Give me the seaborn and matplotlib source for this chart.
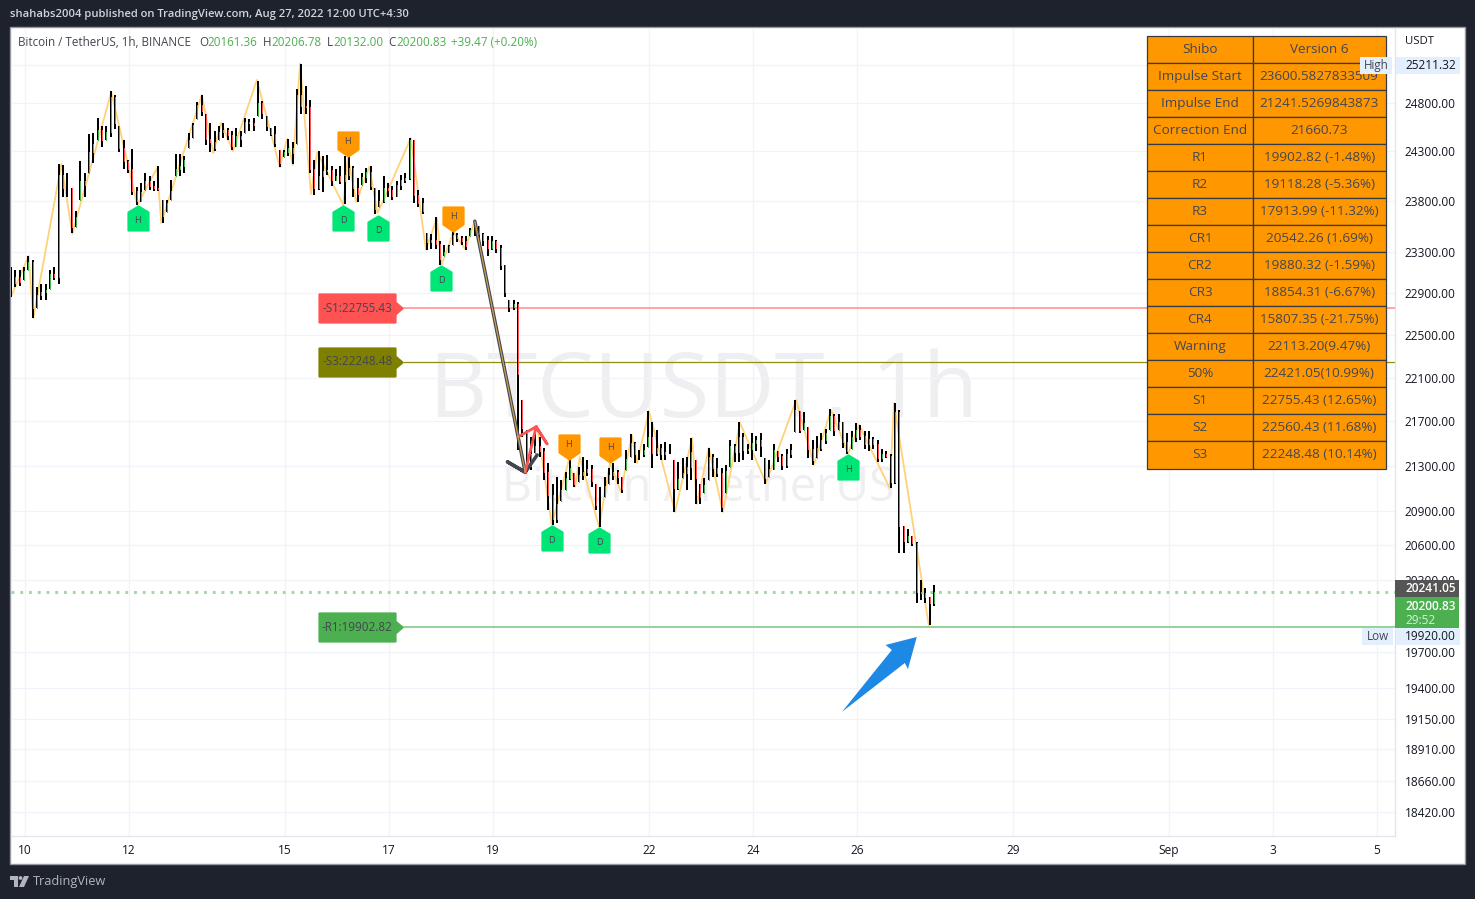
import numpy as np
import pandas as pd
import matplotlib
matplotlib.use("Agg")
import matplotlib.pyplot as plt
import seaborn as sns
from matplotlib.path import Path
from matplotlib.patches import Rectangle, Circle, Polygon
from matplotlib.ticker import FixedLocator, FixedFormatter, NullLocator

# candles, one per two hours
first_candle_day = 9.73
highs = [
    23150,23120,23120,23150,23260,23220,22960,22990,22990,23120,
    23150,24170,24160,24080,23930,23700,24200,24080,24480,24490,
    24640,24560,24560,24920,24880,24560,24420,24210,24330,23940,
    23980,24080,24050,24000,24150,23810,23810,24010,24270,24270,
    24250,24490,24590,24810,24880,24690,24590,24510,24560,24590,
    24540,24510,24540,24510,24640,24630,24640,25030,24820,24660,
    24540,24560,24320,24320,24430,24400,24950,25211,24980,24830,
    24210,24300,24250,24260,24150,24120,24150,24250,24250,24150,
    24030,24080,24130,24150,23930,23910,24050,23980,23950,24000,
    24060,24080,24440,24420,23910,23830,23480,23470,23640,23400,
    23370,23370,23500,23480,23450,23450,23530,23600,23550,23480,
    23450,23450,23410,23370,23170,22830,22830,22810,21895,21620,
    21560,21650,21560,21460,21320,21140,21200,21170,21240,21350,
    21230,21290,21380,21350,21310,21140,21110,21200,21280,21320,
    21260,21200,21440,21580,21510,21440,21490,21790,21690,21620,
    21490,21510,21490,21350,21330,21370,21380,21550,21350,21140,
    21190,21460,21400,21370,21280,21310,21530,21490,21690,21590,
    21490,21590,21570,21590,21370,21350,21490,21430,21400,21450,
    21490,21890,21790,21780,21650,21530,21570,21590,21630,21810,
    21770,21770,21690,21590,21610,21680,21670,21610,21610,21560,
    21530,21450,21430,21400,21870,21800,20770,20740,20680,20630,
    20300,20230,20160,20260]
lows = [
    22860,22960,22970,23020,23120,22660,22760,22830,22830,22940,
    23020,22990,23840,23840,23480,23540,23810,23840,24080,24180,
    24420,24350,24420,24450,24530,24290,24120,24080,23860,23760,
    23790,23910,23910,23900,23900,23580,23690,23810,24050,24050,
    24080,24340,24440,24630,24660,24370,24290,24300,24420,24440,
    24420,24320,24350,24350,24490,24510,24510,24660,24630,24510,
    24460,24350,24140,24240,24250,24170,24380,24690,24690,24080,
    23860,23910,23890,24060,23950,24000,23970,23770,24010,23840,
    23790,23960,23980,23910,23670,23740,23780,23840,23810,23840,
    23910,23980,24010,23780,23740,23670,23320,23330,23330,23170,
    23260,23290,23370,23390,23370,23320,23450,23450,23420,23360,
    23260,23320,23290,23120,22860,22720,22740,21440,21560,21240,
    21260,21410,21380,21170,20910,20780,20790,20990,21080,21170,
    21110,21150,21170,21210,21110,20910,20760,21020,21140,21170,
    21140,21060,21260,21380,21320,21350,21380,21470,21280,21390,
    21350,21350,21400,20890,21080,21190,21080,21170,20960,20960,
    21060,21170,21200,21200,20890,21060,21290,21330,21330,21350,
    21400,21350,21430,21380,21140,21200,21260,21330,21260,21280,
    21370,21600,21590,21620,21370,21310,21370,21430,21490,21620,
    21570,21620,21460,21400,21450,21510,21530,21450,21430,21450,
    21330,21330,21370,21100,21140,20530,20530,20620,20590,20110,
    20130,20110,19920,20080]
closes = [
    23000,23050,23010,23110,23200,22760,22880,22910,22930,23080,
    23050,24060,23930,23930,23540,23640,24000,23960,24290,24380,
    24520,24420,24500,24860,24590,24340,24200,24120,23900,23800,
    23890,24000,23950,23930,23920,23650,23780,23900,24120,24150,
    24210,24420,24570,24780,24720,24430,24400,24340,24500,24520,
    24470,24360,24460,24430,24600,24590,24570,24800,24700,24560,
    24480,24390,24180,24290,24340,24280,24880,24770,24760,24120,
    23930,24050,24100,24110,24010,24050,24000,24060,24130,23930,
    23870,24040,24090,23950,23720,23800,23930,23910,23850,23960,
    24010,24030,24420,23860,23780,23700,23390,23410,23380,23230,
    23300,23360,23460,23430,23400,23360,23510,23560,23470,23410,
    23340,23400,23340,23170,22910,22770,22790,22130,21640,21300,
    21400,21480,21430,21240,21040,20830,20960,21080,21190,21280,
    21140,21220,21240,21270,21160,20950,20950,21120,21220,21240,
    21200,21090,21360,21500,21400,21400,21440,21560,21410,21460,
    21400,21420,21420,21100,21180,21230,21290,21420,21190,21020,
    21130,21380,21280,21230,20930,21250,21480,21420,21560,21440,
    21450,21500,21530,21480,21190,21270,21440,21390,21310,21400,
    21440,21800,21620,21680,21450,21350,21460,21530,21590,21750,
    21620,21690,21510,21430,21560,21620,21570,21490,21540,21490,
    21370,21400,21390,21150,21780,20770,20640,20680,20620,20200,
    20190,20160,20110,20201]

# zigzag pivots
zig_days = [9.73,10.07,10.16,10.70,10.91,11.66,12.16,12.54,12.62,13.40,13.62,13.77,14.00,14.46,
            14.90,15.04,15.15,15.29,15.50,15.62,16.12,16.21,16.37,16.62,16.78,17.04,17.42,17.71,
            17.92,18.01,18.24,18.46,18.65,19.62,19.85,20.13,20.46,20.58,20.67,21.04,21.25,21.46,
            21.67,21.77,22.00,22.50,22.83,22.92,23.15,23.42,23.75,24.25,24.83,25.17,25.50,25.83,
            26.04,26.63,26.71,27.38]
zig_prices = [22862,23258,22661,24173,23474,24914,23761,24133,23582,24883,24283,24593,24304,25041,
              24143,24428,24163,25211,23871,24293,23761,24244,23791,24143,23680,23981,24438,23317,
              23632,23170,23494,23327,23600,21241,21660,20776,21351,21110,21378,20759,21324,21066,
              21576,21324,21794,20890,21549,20960,21458,20890,21685,21145,21895,21306,21803,21405,
              21667,21100,21868,19920]

# impulse and correction arrows
impulse_days = [18.65,19.62,19.28,19.62,19.85]
impulse_prices = [23600,21241,21333,21241,21396]
correction_days = [19.48,19.83,20.04,19.83,19.62]
correction_prices = [21558,21650,21495,21650,21241]

# blue arrow the author drew
arrow_days = [25.71,26.67,26.55,27.15,26.98,26.92]
arrow_prices = [19209,19715,19756,19823,19558,19608]

# pattern badges
down_badge_days = [12.17,16.12,16.79,18.00,20.13,21.04,25.83]
down_badge_prices = [23761,23761,23662,23170,20776,20759,21405]
down_badge_text = ["H","D","D","D","D","D","H"]
up_badge_days = [16.21,18.24,20.46,21.25]
up_badge_prices = [24244,23494,21351,21324]

# levels
level_names = ["S1","S3","R1"]
level_prices = [22755.43,22248.48,19902.82]
level_start_day = 17.27
level_colors = ["#ff5252","#808000","#4caf50"]
level_line_colors = ["#ff9d9d","#8f8f14","#8ecf90"]
level_line_widths = [1.3,0.9,1.3]
last_price = 20200.83

# axes
price_ticks = [25200,24800,24300,23800,23300,22900,22500,22100,21700,21300,20900,20600,20300,
               19700,19400,19150,18910,18660,18420]
date_ticks = [10,12,15,17,19,22,24,26,29,32,34,36]
date_labels = ["10","12","15","17","19","22","24","26","29","Sep","3","5"]

# table
table_left = ["Shibo","Impulse Start","Impulse End","Correction End","R1","R2","R3","CR1","CR2","CR3",
              "CR4","Warning","50%","S1","S2","S3"]
table_right = ["Version 6","23600.5827833509","21241.5269843873","21660.73","19902.82 (-1.48%)",
               "19118.28 (-5.36%)","17913.99 (-11.32%)","20542.26 (1.69%)","19880.32 (-1.59%)",
               "18854.31 (-6.67%)","15807.35 (-21.75%)","22113.20(9.47%)","22421.05(10.99%)",
               "22755.43 (12.65%)","22560.43 (11.68%)","22248.48 (10.14%)"]

DARK = "#1e222d"
TEXT = "#434651"
UP = "#4caf50"
DOWN = "#ff5252"
GRID = "#f0f3fa"
W, H = 1475, 899

sns.set_theme(style="white")
plt.rcParams['font.family'] = ['Open Sans', 'DejaVu Sans']

candles = pd.DataFrame({"high": highs, "low": lows, "close": closes})
candles["day"] = first_candle_day + np.arange(len(candles)) / 12
candles["open"] = np.clip(np.r_[closes[0], closes[:-1]], candles["low"], candles["high"])
zigzag = pd.DataFrame({"day": zig_days, "price": zig_prices})

fig = plt.figure(figsize=(W / 100, H / 100), dpi=100, facecolor=DARK)


def pane(left, top, right, bottom, zorder):
    a = fig.add_axes([left / W, 1 - bottom / H, (right - left) / W, (bottom - top) / H], zorder=zorder)
    return a


# white panel behind the chart, in pixels
back = pane(0, 0, W, H, 0)
back.set_xlim(0, W)
back.set_ylim(H, 0)
back.axis("off")
back.add_patch(Rectangle((10, 27), 1455, 837, fc="white", ec="#9598a1", lw=1))

# main chart
ax = pane(11, 28, 1395, 836, 1)
ax.patch.set_alpha(0)
ax.set_yscale("log")

# watermark
ax.text(0.302, 0.547, "BTCUSDT, 1h", transform=ax.transAxes, fontsize=65, color="#efeff1",
        ha="left", va="center", zorder=0.5, family="Open Sans")
ax.text(0.3545, 0.430, "Bitcoin / TetherUS", transform=ax.transAxes, fontsize=33.6, color="#efeff1",
        ha="left", va="center", zorder=0.5, family="Open Sans")

# levels
for price, line_color, line_width in zip(level_prices, level_line_colors, level_line_widths):
    ax.hlines(price, level_start_day, 36.346, color=line_color, lw=line_width, zorder=2)
ax.axhline(last_price, color="#a5d6a7", lw=2.1, ls=(0, (1, 2)), zorder=2)

sns.lineplot(data=zigzag, x="day", y="price", sort=False, estimator=None, color="#ffd27a", lw=1.3,
             ax=ax, zorder=2.5, legend=False)

# candles: black wick, coloured body on top
ax.vlines(candles["day"], candles["low"], candles["high"], color="black", lw=1.44, zorder=3, antialiaseds=False)
body_colors = np.where(candles["close"] >= candles["open"], UP, DOWN)
ax.vlines(candles["day"], candles["open"], candles["close"], colors=body_colors, lw=0.65, zorder=4, antialiaseds=False)

sns.lineplot(x=impulse_days, y=impulse_prices, sort=False, estimator=None, color="#434651", lw=2.5,
             ax=ax, zorder=6, legend=False)
sns.lineplot(x=impulse_days[:2], y=impulse_prices[:2], sort=False, estimator=None, color="#c9a04f", lw=0.9,
             ax=ax, zorder=7, legend=False)
sns.lineplot(x=correction_days, y=correction_prices, sort=False, estimator=None, color="#ff5252", lw=2.0,
             ax=ax, zorder=6, legend=False)
ax.fill(arrow_days, arrow_prices, color="#1e88e5", lw=0, zorder=8)

# badges and level tags, tip of the marker sits on the price
house_down = Path([(0, -1), (10, -7), (10, -25), (-10, -25), (-10, -7), (0, -1)], closed=True)
house_up = Path([(0, 1), (10, 8), (10, 25), (-10, 25), (-10, 8), (0, 1)], closed=True)
tag_shape = Path([(-1, 0), (-8, 6), (-8, 14), (-84, 14), (-84, -14), (-8, -14), (-8, -6), (-1, 0)], closed=True)


def stamp(days, prices, shape, color, size):
    # scatter marker with rounded corners, size is in pixels of the shape's largest coordinate
    sns.scatterplot(x=days, y=prices, marker=shape, s=(1.44 * size) ** 2, color=color,
                    edgecolor=color, linewidth=1.6, ax=ax, zorder=9, legend=False)
    ax.collections[-1].set_joinstyle("round")


stamp(down_badge_days, down_badge_prices, house_down, "#00e676", 25)
stamp(up_badge_days, up_badge_prices, house_up, "#ff9800", 25)
for d, p, t in zip(down_badge_days, down_badge_prices, down_badge_text):
    ax.annotate(t, (d, p), xytext=(0, -11.5), textcoords="offset points", ha="center", va="center",
                fontsize=6.5, color=TEXT, zorder=10)
for d, p in zip(up_badge_days, up_badge_prices):
    ax.annotate("H", (d, p), xytext=(0, 11.3), textcoords="offset points", ha="center", va="center",
                fontsize=6.5, color=TEXT, zorder=10)

for name, price, color in zip(level_names, level_prices, level_colors):
    stamp([level_start_day], [price], tag_shape, color, 84)
    ax.annotate(f"-{name}:{price:.2f}", (level_start_day, price), xytext=(-33, 0), textcoords="offset points",
                ha="center", va="center", fontsize=8.4, color=TEXT, zorder=10)

ax.set_xlim(9.731, 36.346)
ax.set_ylim(18235, 25592)
ax.set(xlabel=None, ylabel=None)
ax.yaxis.set_major_locator(FixedLocator(price_ticks))
ax.yaxis.set_major_formatter(FixedFormatter([f"{p:.2f}" for p in price_ticks]))
ax.yaxis.set_minor_locator(NullLocator())
ax.yaxis.tick_right()
ax.xaxis.set_major_locator(FixedLocator(date_ticks))
ax.xaxis.set_major_formatter(FixedFormatter(date_labels))
ax.tick_params(axis="y", length=0, pad=7, labelsize=8.6, labelcolor="#131722", labelright=True)
ax.tick_params(axis="x", length=0, pad=6, labelsize=8.6, labelcolor="#131722")
ax.grid(True, color=GRID, lw=0.9)
ax.set_axisbelow(True)
for side in ["top", "left"]:
    ax.spines[side].set_visible(False)
for side in ["bottom", "right"]:
    ax.spines[side].set_color("#e0e3eb")
    ax.spines[side].set_linewidth(0.9)

# stats table
tab_ax = pane(1147, 36, 1385.5, 468.5, 2)
tab_ax.axis("off")
table = tab_ax.table(cellText=list(zip(table_left, table_right)), bbox=[0, 0, 1, 1],
                     colWidths=[106 / 238.5, 132.5 / 238.5], cellLoc="center")
table.auto_set_font_size(False)
table.set_fontsize(9.7)
for cell in table.get_celld().values():
    cell.set_facecolor("#ff9800")
    cell.set_edgecolor("#363a45")
    cell.set_linewidth(0.9)
    cell.get_text().set_color(TEXT)

# everything that sits on top of the panes, in pixels
top = pane(0, 0, W, H, 3)
top.set_xlim(0, W)
top.set_ylim(H, 0)
top.axis("off")

top.text(10, 14.5, "shahabs2004 published on TradingView.com, Aug 27, 2022 12:00 UTC+4:30",
         color="#d1d4dc", fontsize=8.1, va="center", fontweight="semibold")
top.text(18, 42, "Bitcoin / TetherUS, 1h, BINANCE", color=TEXT, fontsize=8.4, va="center")
for x, label, value_x, value in [(199, "O", 207, "20161.36"), (263, "H", 271, "20206.78"),
                                 (327, "L", 333, "20132.00"), (388, "C", 396, "20200.83")]:
    top.text(x, 42, label, color=TEXT, fontsize=8.4, va="center")
    top.text(value_x, 42, value, color=UP, fontsize=8.4, va="center")
top.text(451, 42, "+39.47 (+0.20%)", color=UP, fontsize=8.4, va="center")

top.text(1405, 41, "USDT", color="#131722", fontsize=8.2, va="center")

# price scale flags
top.add_patch(Rectangle((1360, 57), 32, 17, fc="#e3effd", lw=0))
top.text(1376, 65, "High", color=TEXT, fontsize=8.4, ha="center", va="center")
top.add_patch(Rectangle((1396, 57), 64, 17, fc="#e3effd", lw=0))
top.text(1405, 65.5, "25211.32", color="#131722", fontsize=8.6, va="center")
top.add_patch(Rectangle((1362, 628), 31, 17, fc="#e3effd", lw=0))
top.text(1377.5, 637, "Low", color=TEXT, fontsize=8.4, ha="center", va="center")
top.add_patch(Rectangle((1396, 628), 64, 17, fc="#e3effd", lw=0))
top.text(1405, 636.5, "19920.00", color="#131722", fontsize=8.6, va="center")
top.add_patch(Rectangle((1395, 580), 64, 17, fc="#555555", lw=0))
top.text(1405, 588.5, "20241.05", color="white", fontsize=8.6, va="center", fontweight="semibold")
top.add_patch(Rectangle((1395, 597), 64, 31, fc=UP, lw=0))
top.text(1405, 606, "20200.83", color="white", fontsize=8.6, va="center", fontweight="semibold")
top.text(1405, 620, "29:52", color="#dcefdc", fontsize=8.6, va="center")

# TradingView logo and footer
top.add_patch(Polygon([(10, 876), (18, 876), (18, 887), (14, 887), (14, 880), (10, 880)], fc="#b2b5be", lw=0))
top.add_patch(Circle((20.5, 878), 1.9, fc="#b2b5be", lw=0))
top.add_patch(Polygon([(24, 876), (29, 876), (24, 887), (19, 887)], fc="#b2b5be", lw=0))
top.text(33, 881.5, "TradingView", color="#b2b5be", fontsize=9.2, va="center")

fig.savefig("out.png", dpi=100, facecolor=DARK)
